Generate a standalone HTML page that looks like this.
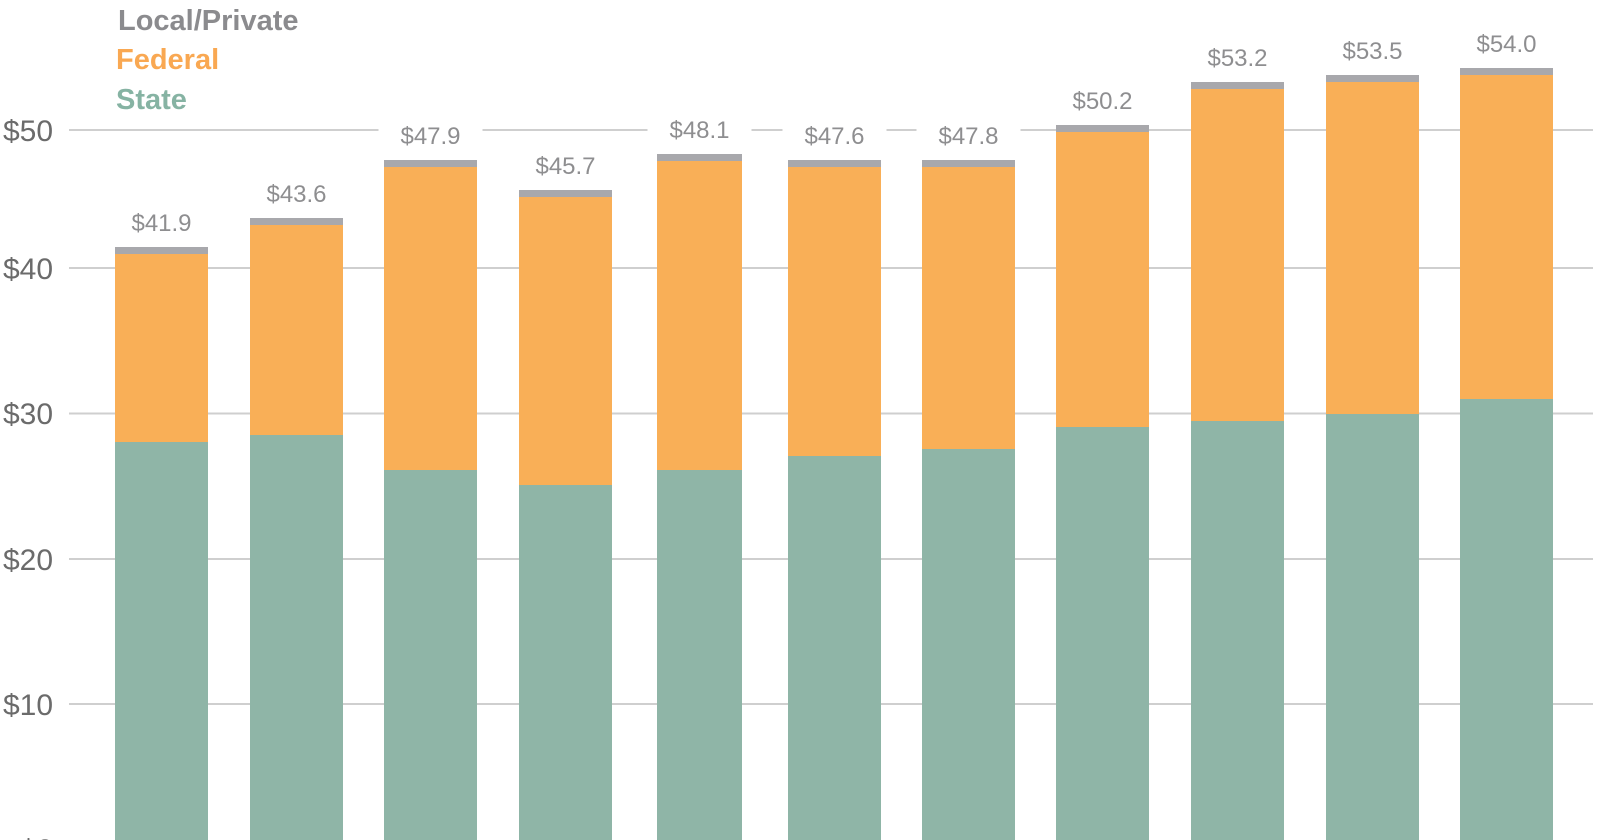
<!DOCTYPE html>
<html><head><meta charset="utf-8"><style>
html,body{margin:0;padding:0;background:#fff;}
svg{display:block;}
.ax{font-family:"Liberation Sans",sans-serif;font-size:30px;fill:#6b6b6b;}
.lb{font-family:"Liberation Sans",sans-serif;font-size:24px;fill:#8e8e90;}
.lg{font-family:"Liberation Sans",sans-serif;font-size:29px;font-weight:bold;}
</style></head><body>
<svg width="1600" height="840" viewBox="0 0 1600 840" xmlns="http://www.w3.org/2000/svg">
<g stroke="#cfcfcf" stroke-width="2">
<line x1="69" y1="130" x2="1593" y2="130"/>
<line x1="69" y1="268" x2="1593" y2="268"/>
<line x1="69" y1="413.5" x2="1593" y2="413.5"/>
<line x1="69" y1="559" x2="1593" y2="559"/>
<line x1="69" y1="704" x2="1593" y2="704"/>
</g>
<g class="ax">
<text x="3" y="141">$50</text>
<text x="3" y="279">$40</text>
<text x="3" y="424">$30</text>
<text x="3" y="570">$20</text>
<text x="3" y="715">$10</text>
<text x="20" y="860">$0</text>
</g>
<text class="lg" x="118" y="30" fill="#8b8b8e">Local/Private</text>
<text class="lg" x="116" y="69" fill="#f9a852">Federal</text>
<text class="lg" x="116" y="109" fill="#86b3a3">State</text>

<g>
<rect x="115" y="247" width="93" height="7" fill="#a8a8ac"/><rect x="115" y="254" width="93" height="188" fill="#f9af57"/><rect x="115" y="442" width="93" height="398" fill="#8fb5a7"/>
<rect x="250" y="218" width="93" height="7" fill="#a8a8ac"/><rect x="250" y="225" width="93" height="210" fill="#f9af57"/><rect x="250" y="435" width="93" height="405" fill="#8fb5a7"/>
<rect x="384" y="160" width="93" height="7" fill="#a8a8ac"/><rect x="384" y="167" width="93" height="303" fill="#f9af57"/><rect x="384" y="470" width="93" height="370" fill="#8fb5a7"/>
<rect x="519" y="190" width="93" height="7" fill="#a8a8ac"/><rect x="519" y="197" width="93" height="288" fill="#f9af57"/><rect x="519" y="485" width="93" height="355" fill="#8fb5a7"/>
<rect x="657" y="154" width="85" height="7" fill="#a8a8ac"/><rect x="657" y="161" width="85" height="309" fill="#f9af57"/><rect x="657" y="470" width="85" height="370" fill="#8fb5a7"/>
<rect x="788" y="160" width="93" height="7" fill="#a8a8ac"/><rect x="788" y="167" width="93" height="289" fill="#f9af57"/><rect x="788" y="456" width="93" height="384" fill="#8fb5a7"/>
<rect x="922" y="160" width="93" height="7" fill="#a8a8ac"/><rect x="922" y="167" width="93" height="282" fill="#f9af57"/><rect x="922" y="449" width="93" height="391" fill="#8fb5a7"/>
<rect x="1056" y="125" width="93" height="7" fill="#a8a8ac"/><rect x="1056" y="132" width="93" height="295" fill="#f9af57"/><rect x="1056" y="427" width="93" height="413" fill="#8fb5a7"/>
<rect x="1191" y="82" width="93" height="7" fill="#a8a8ac"/><rect x="1191" y="89" width="93" height="332" fill="#f9af57"/><rect x="1191" y="421" width="93" height="419" fill="#8fb5a7"/>
<rect x="1326" y="75" width="93" height="7" fill="#a8a8ac"/><rect x="1326" y="82" width="93" height="332" fill="#f9af57"/><rect x="1326" y="414" width="93" height="426" fill="#8fb5a7"/>
<rect x="1460" y="68" width="93" height="7" fill="#a8a8ac"/><rect x="1460" y="75" width="93" height="324" fill="#f9af57"/><rect x="1460" y="399" width="93" height="441" fill="#8fb5a7"/>
</g>
<g fill="#fff">
<rect x="109.5" y="205" width="104" height="34"/>
<rect x="244.5" y="176" width="104" height="34"/>
<rect x="378.5" y="118" width="104" height="34"/>
<rect x="513.5" y="148" width="104" height="34"/>
<rect x="647.5" y="112" width="104" height="34"/>
<rect x="782.5" y="118" width="104" height="34"/>
<rect x="916.5" y="118" width="104" height="34"/>
<rect x="1050.5" y="83" width="104" height="34"/>
<rect x="1185.5" y="40" width="104" height="34"/>
<rect x="1320.5" y="33" width="104" height="34"/>
<rect x="1454.5" y="26" width="104" height="34"/>
</g>
<g class="lb" text-anchor="middle">
<text x="161.5" y="231">$41.9</text>
<text x="296.5" y="202">$43.6</text>
<text x="430.5" y="144">$47.9</text>
<text x="565.5" y="174">$45.7</text>
<text x="699.5" y="138">$48.1</text>
<text x="834.5" y="144">$47.6</text>
<text x="968.5" y="144">$47.8</text>
<text x="1102.5" y="109">$50.2</text>
<text x="1237.5" y="66">$53.2</text>
<text x="1372.5" y="59">$53.5</text>
<text x="1506.5" y="52">$54.0</text>
</g>
</svg>
</body></html>
